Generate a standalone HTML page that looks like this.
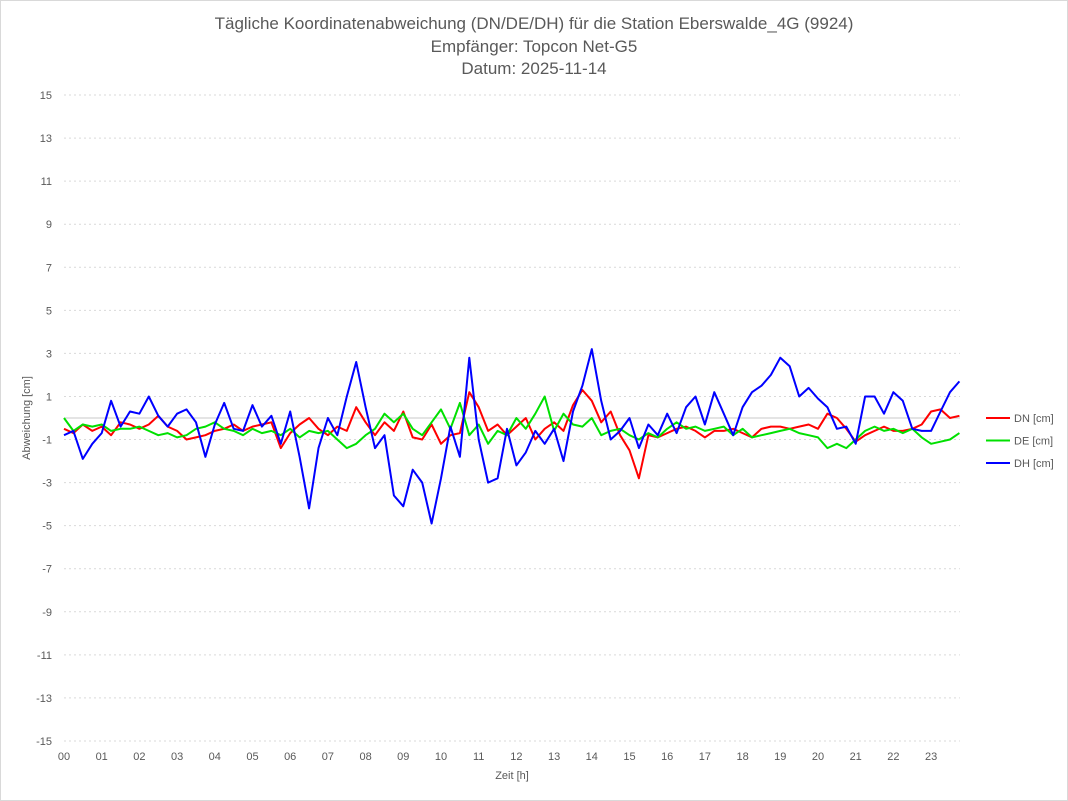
<!DOCTYPE html>
<html><head><meta charset="utf-8"><style>
body{margin:0;background:#fff;font-family:"Liberation Sans",sans-serif}
svg{display:block}
</style></head><body>
<svg id="chart" width="1068" height="801" xmlns="http://www.w3.org/2000/svg">
<rect x="0.5" y="0.5" width="1067" height="800" fill="#fff" stroke="#d9d9d9"/>
<g font-size="17" fill="#595959" text-anchor="middle">
<text x="534" y="29">Tägliche Koordinatenabweichung (DN/DE/DH) für die Station Eberswalde_4G (9924)</text>
<text x="534" y="52">Empfänger: Topcon Net-G5</text>
<text x="534" y="74">Datum: 2025-11-14</text>
</g>
<g id="grid"></g>
<g id="yticks" font-size="11" fill="#595959" text-anchor="end"></g>
<g id="xticks" font-size="11" fill="#595959" text-anchor="middle"></g>
<text transform="translate(30,418) rotate(-90)" font-size="11" fill="#595959" text-anchor="middle">Abweichung [cm]</text>
<text x="512" y="779" font-size="11" fill="#595959" text-anchor="middle">Zeit [h]</text>
<g id="series"></g>
<g id="legend" font-size="11" fill="#595959"></g>
</svg>
<script>
const hours=["00","01","02","03","04","05","06","07","08","09","10","11","12","13","14","15","16","17","18","19","20","21","22","23"];
const yTicks=[15,13,11,9,7,5,3,1,-1,-3,-5,-7,-9,-11,-13,-15];
const dn=[-0.5,-0.7,-0.3,-0.6,-0.4,-0.8,-0.2,-0.3,-0.5,-0.3,0.1,-0.4,-0.6,-1.0,-0.9,-0.8,-0.6,-0.5,-0.3,-0.6,-0.4,-0.3,-0.2,-1.4,-0.7,-0.3,0.0,-0.5,-0.8,-0.4,-0.6,0.5,-0.2,-0.8,-0.2,-0.6,0.3,-0.9,-1.0,-0.3,-1.2,-0.8,-0.7,1.2,0.5,-0.6,-0.3,-0.8,-0.4,0.0,-1.0,-0.5,-0.2,-0.6,0.6,1.3,0.8,-0.2,0.3,-0.8,-1.5,-2.8,-0.8,-0.9,-0.7,-0.5,-0.4,-0.6,-0.9,-0.6,-0.6,-0.5,-0.7,-0.9,-0.5,-0.4,-0.4,-0.5,-0.4,-0.3,-0.5,0.2,0.0,-0.5,-1.1,-0.8,-0.6,-0.4,-0.6,-0.6,-0.5,-0.3,0.3,0.4,0.0,0.1];
const de=[0.0,-0.6,-0.3,-0.4,-0.3,-0.6,-0.5,-0.5,-0.4,-0.6,-0.8,-0.7,-0.9,-0.8,-0.5,-0.4,-0.2,-0.5,-0.6,-0.8,-0.5,-0.7,-0.6,-0.8,-0.5,-0.9,-0.6,-0.7,-0.6,-1.0,-1.4,-1.2,-0.8,-0.5,0.2,-0.2,0.2,-0.5,-0.8,-0.2,0.4,-0.5,0.7,-0.8,-0.3,-1.2,-0.6,-0.8,0.0,-0.5,0.2,1.0,-0.6,0.2,-0.3,-0.4,0.0,-0.8,-0.6,-0.5,-0.8,-1.0,-0.7,-0.9,-0.5,-0.2,-0.5,-0.4,-0.6,-0.5,-0.4,-0.8,-0.5,-0.9,-0.8,-0.7,-0.6,-0.5,-0.7,-0.8,-0.9,-1.4,-1.2,-1.4,-1.0,-0.6,-0.4,-0.6,-0.5,-0.7,-0.5,-0.9,-1.2,-1.1,-1.0,-0.7];
const dh=[-0.8,-0.6,-1.9,-1.2,-0.7,0.8,-0.4,0.3,0.2,1.0,0.1,-0.4,0.2,0.4,-0.2,-1.8,-0.3,0.7,-0.5,-0.6,0.6,-0.4,0.1,-1.2,0.3,-1.8,-4.2,-1.4,0.0,-0.8,1.0,2.6,0.5,-1.4,-0.8,-3.6,-4.1,-2.4,-3.0,-4.9,-2.8,-0.4,-1.8,2.8,-1.0,-3.0,-2.8,-0.5,-2.2,-1.6,-0.6,-1.2,-0.5,-2.0,0.3,1.5,3.2,0.8,-1.0,-0.6,0.0,-1.4,-0.3,-0.8,0.2,-0.7,0.5,1.0,-0.3,1.2,0.2,-0.8,0.5,1.2,1.5,2.0,2.8,2.4,1.0,1.4,0.9,0.5,-0.5,-0.4,-1.2,1.0,1.0,0.2,1.2,0.8,-0.5,-0.6,-0.6,0.3,1.2,1.7];
const seriesNames=["DN [cm]","DE [cm]","DH [cm]"];
const colors=["#ff0000","#00e000","#0000ff"];
const NS="http://www.w3.org/2000/svg";
const X0=64,XH=37.7,Y0=418,YU=21.53;
const xs=h=>X0+h*XH, ys=v=>Y0-v*YU;
function mk(tag,attrs,parent){const e=document.createElementNS(NS,tag);for(const k in attrs)e.setAttribute(k,attrs[k]);parent.appendChild(e);return e;}
const grid=document.getElementById('grid'),yt=document.getElementById('yticks'),xt=document.getElementById('xticks');
yTicks.forEach(v=>{
  const l=mk('line',{x1:64,x2:960,y1:ys(v),y2:ys(v),stroke:'#d9d9d9','stroke-dasharray':'2,3'},grid);
  
  
  const t=mk('text',{x:52,y:ys(v)+4},yt);t.textContent=v;
  
  
});
const z=mk('line',{x1:64,x2:960,y1:ys(0),y2:ys(0),stroke:'#c8c8c8'},grid);


hours.forEach((h,i)=>{
  const t=mk('text',{x:xs(i),y:760},xt);t.textContent=h;
  
  
});
const sg=document.getElementById('series'),lg=document.getElementById('legend');
[dn,de,dh].forEach((arr,si)=>{
  const pts=arr.map((v,i)=>xs(i*0.25).toFixed(1)+','+ys(v).toFixed(1)).join(' ');
  const p=mk('polyline',{points:pts,fill:'none',stroke:colors[si],'stroke-width':2,'stroke-linejoin':'round'},sg);
  
  
  const y=418+si*22.5;
  const ll=mk('line',{x1:986,x2:1010,y1:y,y2:y,stroke:colors[si],'stroke-width':2},lg);
  
  
  const lt=mk('text',{x:1014,y:y+4},lg);lt.textContent=seriesNames[si];
  
  
});
</script>
</body></html>
